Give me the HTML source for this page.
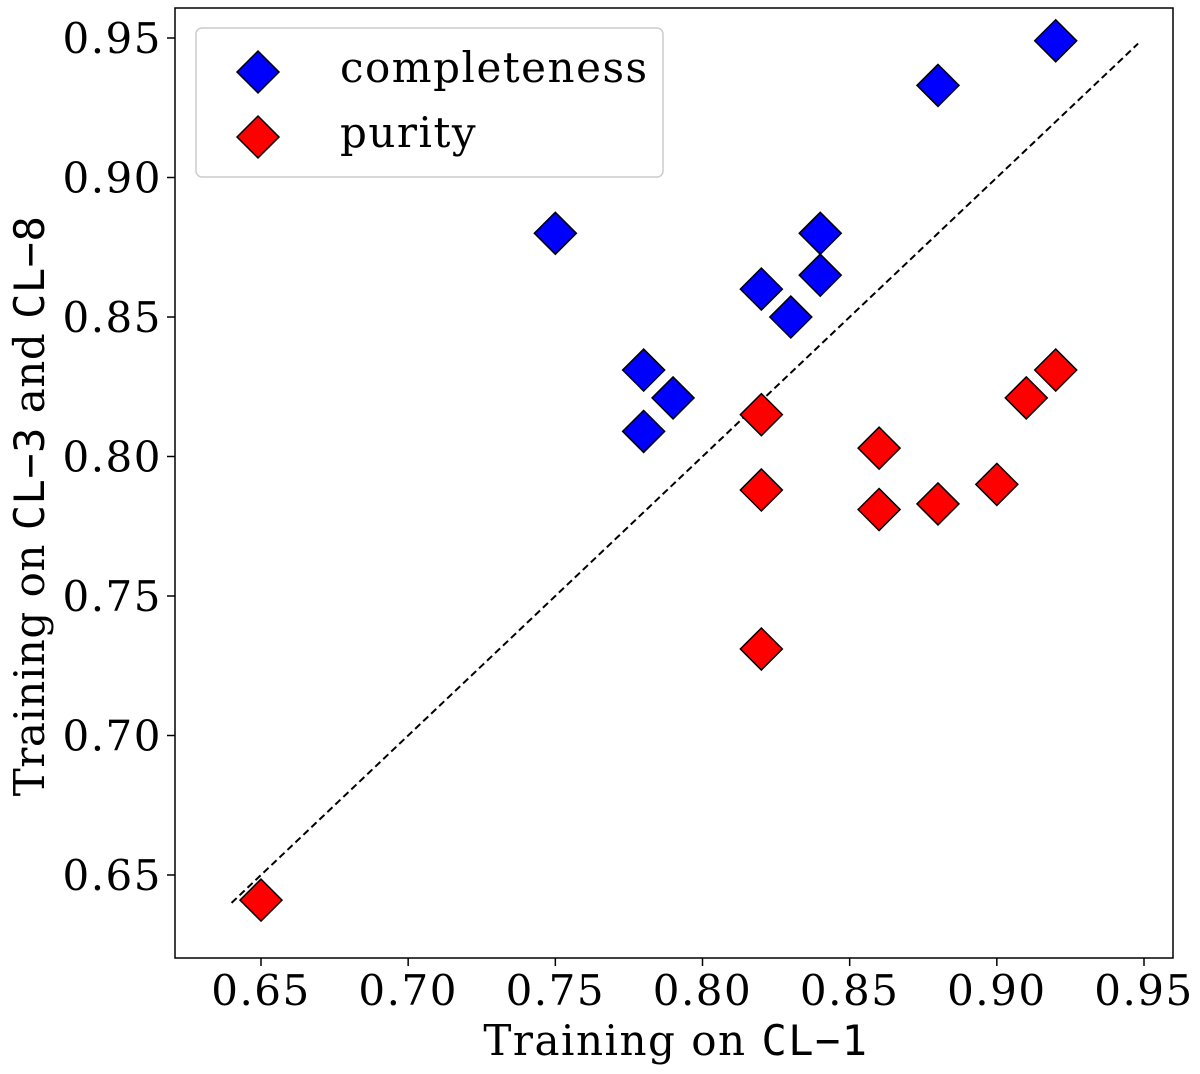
<!DOCTYPE html>
<html><head><meta charset="utf-8"><style>
html,body{margin:0;padding:0;background:#fff;}
svg{display:block;}
text{font-family:"DejaVu Serif","Liberation Serif",serif;fill:#000;letter-spacing:1.5px;}
.mono{font-family:"DejaVu Sans Mono","Liberation Mono",monospace;}
</style></head><body>
<svg id="chart" width="1200" height="1074" viewBox="0 0 1200 1074" xmlns="http://www.w3.org/2000/svg"></svg>
<script>
const xTicks = [0.65,0.70,0.75,0.80,0.85,0.90,0.95];
const yTicks = [0.65,0.70,0.75,0.80,0.85,0.90,0.95];
const complX = [0.75,0.78,0.79,0.78,0.82,0.83,0.84,0.84,0.88,0.92];
const complY = [0.880,0.831,0.821,0.809,0.860,0.850,0.880,0.865,0.933,0.949];
const purX = [0.65,0.82,0.82,0.82,0.86,0.86,0.88,0.90,0.91,0.92];
const purY = [0.641,0.731,0.815,0.788,0.803,0.781,0.783,0.790,0.821,0.831];
const diagLine = [0.64,0.948];

const NS="http://www.w3.org/2000/svg";
const svg=document.getElementById('chart');
const L=175,R=1173,T=8,B=958;
function sx(v){return 261+(v-0.65)*(1144-261)/0.30;}
function sy(v){return 875-(v-0.65)*(875-38)/0.30;}
function mk(tag,attrs,parent){const e=document.createElementNS(NS,tag);for(const k in attrs)e.setAttribute(k,attrs[k]);(parent||svg).appendChild(e);return e;}

const frame=mk('rect',{x:L,y:T,width:R-L,height:B-T,fill:'none',stroke:'#000','stroke-width':1.5});



xTicks.forEach(v=>{
  const x=sx(v);
  const t=mk('line',{x1:x,x2:x,y1:B,y2:B+8,stroke:'#000','stroke-width':1.5});
  
  
  const l=mk('text',{x:x,y:B+47,'font-size':42,'text-anchor':'middle'});
  l.textContent=v.toFixed(2);
  
  
});
yTicks.forEach(v=>{
  const y=sy(v);
  const t=mk('line',{x1:L-8,x2:L,y1:y,y2:y,stroke:'#000','stroke-width':1.5});
  
  
  const l=mk('text',{x:L-13,y:y+15,'font-size':42,'text-anchor':'end'});
  l.textContent=v.toFixed(2);
  
  
});

const d=mk('line',{x1:sx(diagLine[0]),y1:sy(diagLine[0]),x2:sx(diagLine[1]),y2:sy(diagLine[1]),stroke:'#000','stroke-width':2,'stroke-dasharray':'7,4'});



function diamond(cx,cy,fill,name,r){
  r=r||21;
  const p=mk('polygon',{points:`${cx},${cy-r} ${cx+r},${cy} ${cx},${cy+r} ${cx-r},${cy}`,fill:fill,stroke:'#000','stroke-width':1.5});
  
  
  return p;
}
complX.forEach((v,i)=>diamond(sx(v),sy(complY[i]),'#0000ff','completeness-point'));
purX.forEach((v,i)=>diamond(sx(v),sy(purY[i]),'#ff0000','purity-point'));

const lg=mk('rect',{x:196,y:28,width:467,height:149,rx:6,fill:'#fff','fill-opacity':0.8,stroke:'#ccc','stroke-width':1.5});


diamond(258,72,'#0000ff','legend-completeness-marker');
diamond(258,137,'#ff0000','legend-purity-marker');
let t=mk('text',{x:340,y:82,'font-size':42});t.textContent='completeness';


t=mk('text',{x:340,y:147,'font-size':42});t.textContent='purity';



const xt=mk('text',{x:676,y:1055,'font-size':42,'text-anchor':'middle'});
xt.innerHTML='Training on <tspan class="mono">CL−1</tspan>';


const yt=mk('text',{x:0,y:0,'font-size':42,'text-anchor':'middle',style:'letter-spacing:0.5px',transform:'translate(44,506) rotate(-90)'});
yt.innerHTML='Training on <tspan class="mono">CL−3</tspan> and  <tspan class="mono">CL−8</tspan>';


</script>
</body></html>
